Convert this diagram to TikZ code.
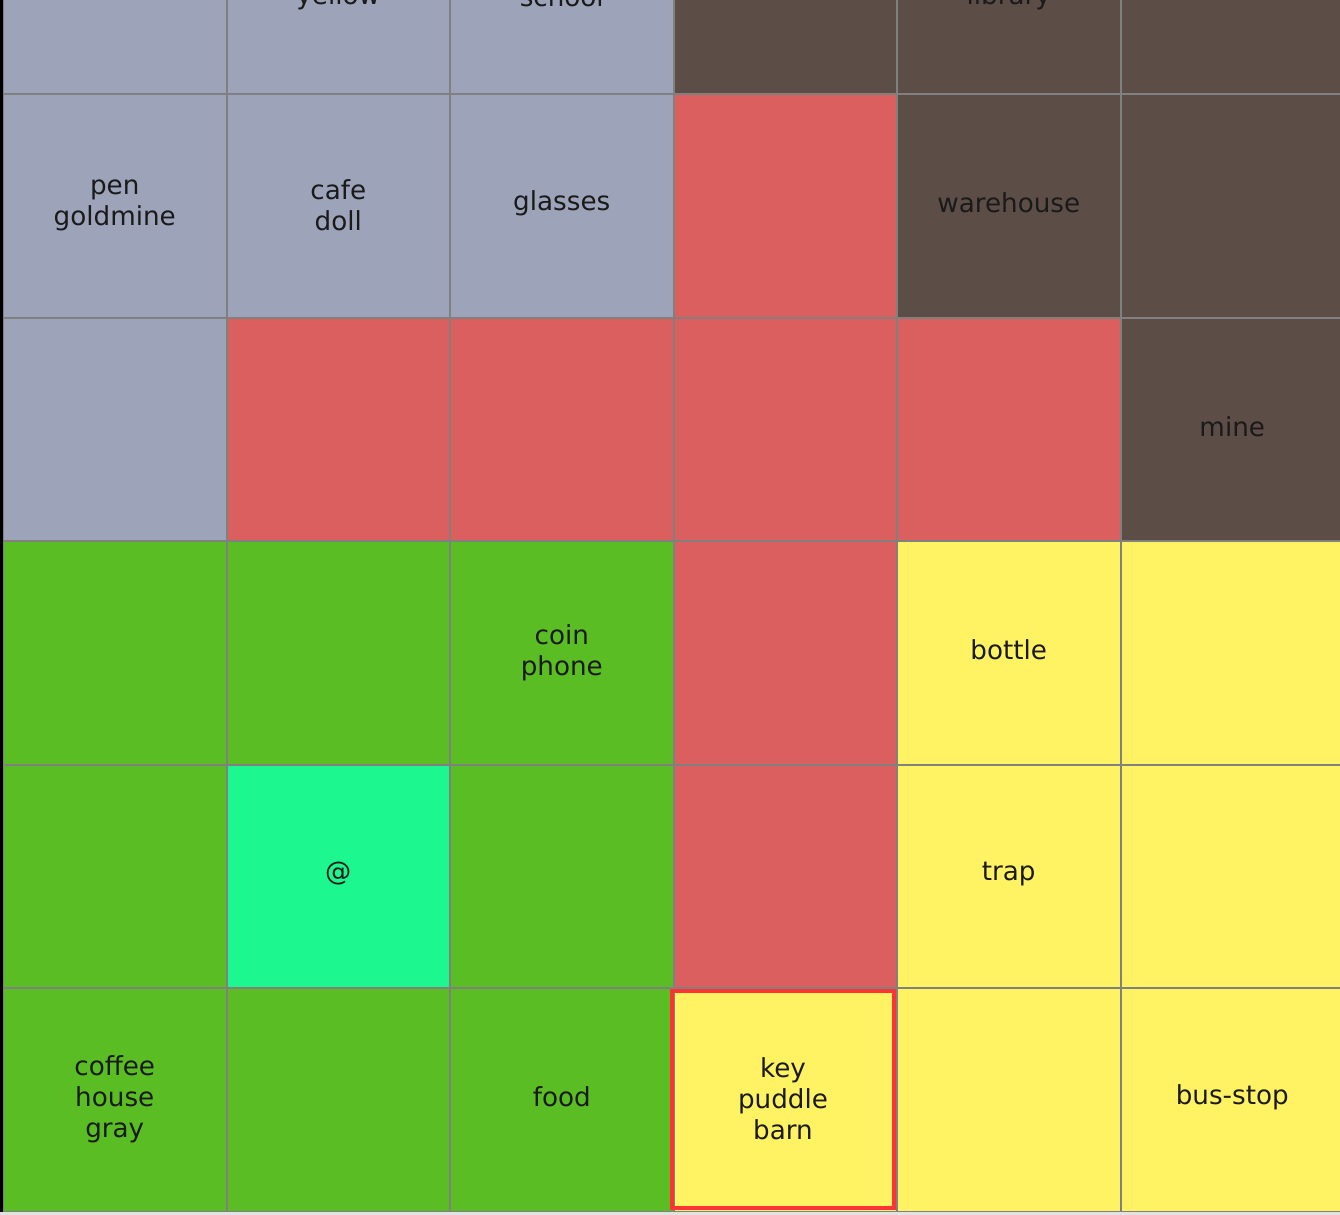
\documentclass[tikz,border=0pt]{standalone}
\usepackage{fontspec}
\setmainfont{DejaVu Sans}
\definecolor{cgray}{HTML}{9DA3B8}
\definecolor{cbrown}{HTML}{5D4D47}
\definecolor{cred}{HTML}{DB5F5F}
\definecolor{cgreen}{HTML}{5BBD24}
\definecolor{cyellow}{HTML}{FFF263}
\definecolor{ccyan}{HTML}{1CF78F}
\definecolor{gridc}{HTML}{808080}
\definecolor{txt}{HTML}{1A1A1A}
\definecolor{bgc}{HTML}{E2E2E2}
\definecolor{hilite}{HTML}{FF3333}
\begin{document}
\begin{tikzpicture}[x=0.5pt,y=-0.5pt,
  cell/.style={draw=gridc, line width=1pt, minimum width=111.75pt, minimum height=111.8pt,
    inner sep=0pt},
  lbl/.style={inner sep=0pt, align=center, font=\fontsize{13.1}{15.5}\selectfont, text=txt}]
\useasboundingbox (0,0) rectangle (1340,1215);
\clip (0,0) rectangle (1340,1215);
\fill[bgc] (0,0) rectangle (1340,1215);
% row 0
\node[cell, fill=cgray]   (r0c0) at (114.75,-17.8) {};
\node[cell, fill=cgray]   (r0c1) at (338.25,-17.8) {};
\node[cell, fill=cgray]   (r0c2) at (561.75,-17.8) {};
\node[cell, fill=cbrown]  (r0c3) at (785.25,-17.8) {};
\node[cell, fill=cbrown]  (r0c4) at (1008.75,-17.8) {};
\node[cell, fill=cbrown]  (r0c5) at (1232.25,-17.8) {};
% row 1
\node[cell, fill=cgray]   (r1c0) at (114.75,205.8) {};
\node[cell, fill=cgray]   (r1c1) at (338.25,205.8) {};
\node[cell, fill=cgray]   (r1c2) at (561.75,205.8) {};
\node[cell, fill=cred]    (r1c3) at (785.25,205.8) {};
\node[cell, fill=cbrown]  (r1c4) at (1008.75,205.8) {};
\node[cell, fill=cbrown]  (r1c5) at (1232.25,205.8) {};
% row 2
\node[cell, fill=cgray]   (r2c0) at (114.75,429.4) {};
\node[cell, fill=cred]    (r2c1) at (338.25,429.4) {};
\node[cell, fill=cred]    (r2c2) at (561.75,429.4) {};
\node[cell, fill=cred]    (r2c3) at (785.25,429.4) {};
\node[cell, fill=cred]    (r2c4) at (1008.75,429.4) {};
\node[cell, fill=cbrown]  (r2c5) at (1232.25,429.4) {};
% row 3
\node[cell, fill=cgreen]  (r3c0) at (114.75,653) {};
\node[cell, fill=cgreen]  (r3c1) at (338.25,653) {};
\node[cell, fill=cgreen]  (r3c2) at (561.75,653) {};
\node[cell, fill=cred]    (r3c3) at (785.25,653) {};
\node[cell, fill=cyellow] (r3c4) at (1008.75,653) {};
\node[cell, fill=cyellow] (r3c5) at (1232.25,653) {};
% row 4
\node[cell, fill=cgreen]  (r4c0) at (114.75,876.6) {};
\node[cell, fill=ccyan]   (r4c1) at (338.25,876.6) {};
\node[cell, fill=cgreen]  (r4c2) at (561.75,876.6) {};
\node[cell, fill=cred]    (r4c3) at (785.25,876.6) {};
\node[cell, fill=cyellow] (r4c4) at (1008.75,876.6) {};
\node[cell, fill=cyellow] (r4c5) at (1232.25,876.6) {};
% row 5
\node[cell, fill=cgreen]  (r5c0) at (114.75,1100.2) {};
\node[cell, fill=cgreen]  (r5c1) at (338.25,1100.2) {};
\node[cell, fill=cgreen]  (r5c2) at (561.75,1100.2) {};
\node[cell, fill=cyellow] (r5c3) at (785.25,1100.2) {};
\node[cell, fill=cyellow] (r5c4) at (1008.75,1100.2) {};
\node[cell, fill=cyellow] (r5c5) at (1232.25,1100.2) {};
% highlighted cell
\node[draw=hilite, line width=2pt, minimum width=111pt, minimum height=108.5pt, inner sep=0pt] (keycell) at (783,1099.5) {};
% labels
\node[lbl] (t01) at ([yshift=-7.4pt]r0c1.center) {yellow};
\node[lbl] (t02) at ([yshift=-7.4pt]r0c2.center) {school};
\node[lbl] (t04) at ([yshift=-7.4pt]r0c4.center) {library};
\node[lbl] (t10) at ([yshift=0.3pt]r1c0.center) {pen\\goldmine};
\node[lbl] (t11) at ([yshift=0.3pt]r1c1.center) {cafe\\doll};
\node[lbl] (t12) at ([yshift=1.5pt]r1c2.center) {glasses};
\node[lbl] (t14) at ([yshift=1.5pt]r1c4.center) {warehouse};
\node[lbl] (t25) at ([yshift=1.5pt]r2c5.center) {mine};
\node[lbl] (t32) at ([yshift=0.3pt]r3c2.center) {coin\\phone};
\node[lbl] (t34) at ([yshift=1.5pt]r3c4.center) {bottle};
\node[lbl] (t41) at ([yshift=1.5pt]r4c1.center) {@};
\node[lbl] (t44) at ([yshift=1.5pt]r4c4.center) {trap};
\node[lbl] (t50) at ([yshift=0.3pt]r5c0.center) {coffee\\house\\gray};
\node[lbl] (t52) at ([yshift=1.5pt]r5c2.center) {food};
\node[lbl] (t53) at ([yshift=0.3pt]keycell.center) {key\\puddle\\barn};
\node[lbl] (t55) at ([yshift=1.5pt]r5c5.center) {bus-stop};
% bottom strip and left edge
\fill[bgc] (0,1212) rectangle (1340,1215);
\fill[black] (0,0) rectangle (3,1212);
\end{tikzpicture}
\end{document}
